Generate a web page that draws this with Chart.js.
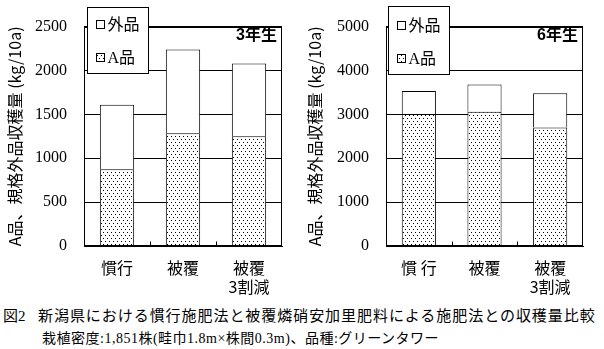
<!DOCTYPE html>
<html>
<head>
<meta charset="utf-8">
<script src="https://cdn.jsdelivr.net/npm/chart.js@4.4.1/dist/chart.umd.min.js"></script>
<style>
  html, body { margin: 0; padding: 0; background: #fff; }
  body { width: 604px; height: 349px; position: relative; overflow: hidden; color: #000;
         font-family: "Liberation Serif", "Noto Sans CJK JP", serif; }
  #c3 { position: absolute; left: 0; top: 0; }
  #c6 { position: absolute; left: 300px; top: 0; }
  .cap { position: absolute; white-space: nowrap; line-height: 1; }
  #cap1 { left: 3px; top: 309px; font-size: 15px; }
  #cap1 .t { position: absolute; left: 35px; top: 0; letter-spacing: 0.95px; }
  #cap2 { left: 42px; top: 332px; font-size: 14px; letter-spacing: 0.5px; }
</style>
</head>
<body>
<canvas id="c3" width="300" height="296"></canvas>
<canvas id="c6" width="304" height="296"></canvas>
<div class="cap" id="cap1">図2<span class="t">新潟県における慣行施肥法と被覆燐硝安加里肥料による施肥法との収穫量比較</span></div>
<div class="cap" id="cap2">栽植密度:1,851株(畦巾1.8m×株間0.3m)、品種:グリーンタワー</div>
<script>
// Yields (kg/10a): A-grade and off-grade portions, stacked per fertilising method
const categories3 = ['慣行', '被覆', ['被覆', '3割減']];
const categories6 = ['慣 行', '被覆', ['被覆', '3割減']];
const aGrade3   = [875, 1285, 1250];
const offGrade3 = [735, 955, 830];
const aGrade6   = [3010, 3060, 2700];
const offGrade6 = [520, 620, 780];
const yTicks3 = [0, 500, 1000, 1500, 2000, 2500];
const yTicks6 = [0, 1000, 2000, 3000, 4000, 5000];
const seriesNames = ['A品', '外品'];
const yTitle = 'A品、規格外品収穫量 (kg/10a)';

const FONT_MIX = '"Liberation Serif", "Noto Sans CJK JP"';
const FONT_SANS = '"Noto Sans CJK JP", "Liberation Sans"';

function dotPattern(ctx) {
  const p = document.createElement('canvas');
  p.width = 4; p.height = 6;
  const g = p.getContext('2d');
  g.fillStyle = '#fff'; g.fillRect(0, 0, 4, 6);
  g.fillStyle = '#000';
  g.fillRect(1, 1, 1, 1);
  g.fillRect(3, 4, 1, 1);
  return ctx.createPattern(p, 'repeat');
}

// Frame, inner category ticks, boxed legend and age label
const decorPlugin = {
  id: 'decor',
  afterDraw(chart, args, opts) {
    const { ctx, chartArea: a, scales: { x } } = chart;
    ctx.save();
    ctx.strokeStyle = '#000';
    ctx.lineWidth = 1;
    const L = Math.round(a.left) + 0.5, R = Math.round(a.right) - 0.5;
    const T = Math.round(a.top) + 0.5, B = Math.round(a.bottom) - 0.5;
    ctx.strokeRect(L, T, R - L, B - T);

    // short marks between categories, pointing up from the axis
    const n = chart.data.labels.length;
    ctx.beginPath();
    for (let i = 0; i < n - 1; i++) {
      const xm = Math.round((x.getPixelForValue(i) + x.getPixelForValue(i + 1)) / 2) + 0.5;
      ctx.moveTo(xm, B);
      ctx.lineTo(xm, B - 4);
    }
    ctx.stroke();

    // legend box
    const bx = Math.round(a.left) + opts.legendDx + 0.5, by = opts.legendTop + 0.5;
    const bw = 61, bh = opts.legendH;
    ctx.fillStyle = '#fff';
    ctx.fillRect(bx, by, bw, bh);
    ctx.strokeRect(bx, by, bw, bh);
    const ds = chart.data.datasets;
    const items = [ds[1], ds[0]];
    const rows = [opts.row1, opts.row2];
    ctx.font = '16px ' + FONT_MIX;
    ctx.textBaseline = 'middle';
    ctx.textAlign = 'left';
    items.forEach((d, i) => {
      const cy = by + rows[i];
      ctx.fillStyle = d.backgroundColor;
      ctx.fillRect(bx + 9, cy - 4, 8, 8);
      ctx.strokeRect(bx + 9, cy - 4, 8, 8);
      ctx.fillStyle = '#000';
      ctx.fillText(d.label, bx + 20, cy + 1);
    });

    // plant age label
    ctx.font = 'bold 16px "Liberation Sans", "Noto Sans CJK JP"';
    ctx.textAlign = 'right';
    ctx.fillStyle = '#000';
    ctx.fillText(opts.ageLabel, a.right - 5, 36);
    ctx.restore();
  }
};

function makeChart(id, labels, aVals, offVals, ticks, cfg) {
  const canvas = document.getElementById(id);
  const ctx = canvas.getContext('2d');
  const pattern = dotPattern(ctx);
  return new Chart(ctx, {
    type: 'bar',
    data: {
      labels: labels,
      datasets: [
        { label: seriesNames[0], data: aVals, backgroundColor: pattern,
          borderColor: '#000', borderWidth: 1 },
        { label: seriesNames[1], data: offVals, backgroundColor: '#fff',
          borderColor: '#000', borderWidth: 1 }
      ]
    },
    options: {
      responsive: false,
      animation: false,
      layout: { padding: { left: 0, top: 21, right: cfg.padRight, bottom: 0 } },
      datasets: { bar: { categoryPercentage: 1, barPercentage: 0.52 } },
      plugins: {
        legend: { display: false },
        tooltip: { enabled: false },
        decor: cfg.decor
      },
      scales: {
        x: {
          stacked: true,
          grid: { display: false, drawTicks: false },
          border: { display: true, color: '#000', width: 1 },
          ticks: { color: '#000', padding: 13, maxRotation: 0, autoSkip: false,
                   font: { family: FONT_SANS, size: 16, lineHeight: 1.15 } },
          afterFit: s => { s.height = 296 - 246; }
        },
        y: {
          stacked: true,
          min: ticks[0], max: ticks[ticks.length - 1],
          afterBuildTicks: s => { s.ticks = ticks.map(v => ({ value: v })); },
          grid: { color: '#000', lineWidth: 1, drawTicks: false },
          border: { display: true, color: '#000', width: 1 },
          ticks: { color: '#000', padding: 17, font: { family: FONT_MIX, size: 16 },
                   callback: v => String(v) },
          title: { display: true, text: yTitle, color: '#000',
                   padding: { top: 5, bottom: 0 },
                   font: { family: FONT_SANS, size: 16, lineHeight: 1.2 } },
          afterFit: s => { s.width = cfg.yWidth; }
        }
      }
    },
    plugins: [decorPlugin]
  });
}

makeChart('c3', categories3, aGrade3, offGrade3, yTicks3, {
  padRight: 18, yWidth: 84,
  decor: { legendDx: 3, legendTop: 7, legendH: 66, row1: 17, row2: 50, ageLabel: '3年生' }
});
makeChart('c6', categories6, aGrade6, offGrade6, yTicks6, {
  padRight: 21, yWidth: 86,
  decor: { legendDx: 2, legendTop: 6, legendH: 68, row1: 19, row2: 52, ageLabel: '6年生' }
});
</script>
</body>
</html>
